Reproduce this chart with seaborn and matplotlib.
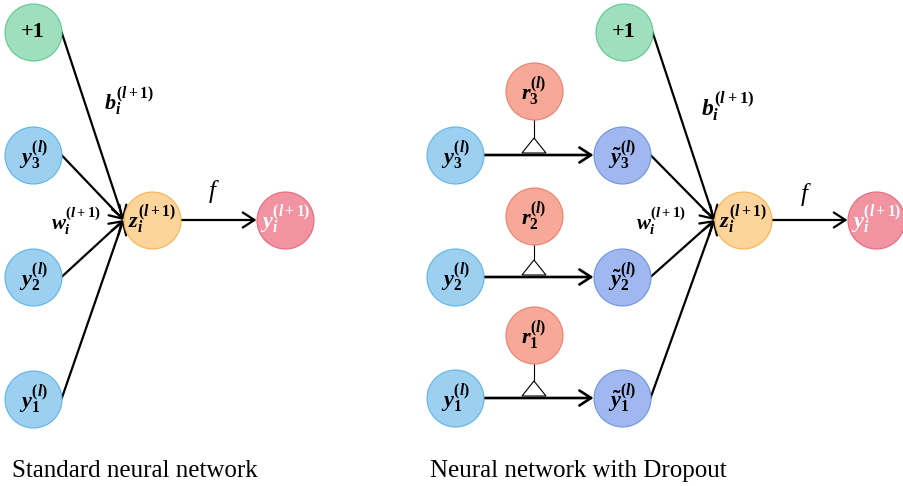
import matplotlib
matplotlib.use('Agg')
import matplotlib.pyplot as plt
import seaborn as sns
import pandas as pd
from matplotlib.patches import Polygon

# ---------------- data ----------------
node_labels = ['+1', r'$y_3^{(l)}$', r'$y_2^{(l)}$', r'$y_1^{(l)}$', r'$z_i^{(l+1)}$', r'$y_i^{(l+1)}$',
               '+1', r'$y_3^{(l)}$', r'$y_2^{(l)}$', r'$y_1^{(l)}$',
               r'$r_3^{(l)}$', r'$r_2^{(l)}$', r'$r_1^{(l)}$',
               r'$\tilde{y}_3^{(l)}$', r'$\tilde{y}_2^{(l)}$', r'$\tilde{y}_1^{(l)}$',
               r'$z_i^{(l+1)}$', r'$y_i^{(l+1)}$']
node_kinds = ['bias', 'input', 'input', 'input', 'sum', 'output',
              'bias', 'input', 'input', 'input',
              'mask', 'mask', 'mask',
              'thinned', 'thinned', 'thinned',
              'sum', 'output']
# layout (pixel coordinates of the node centres)
node_x = [33, 33, 33, 33, 152, 285,
          624, 455, 455, 455,
          534, 534, 534,
          622, 622, 622,
          743, 876]
node_y = [32, 155, 277, 399, 220, 220,
          32, 155, 277, 398,
          91, 216, 335,
          155, 277, 398,
          220, 220]

# edges (index pairs)
edges_to_sum = [(0, 4), (1, 4), (2, 4), (3, 4), (6, 16), (13, 16), (14, 16), (15, 16)]
edges_out = [(4, 5), (16, 17)]
dropout_edges = [(7, 13, 10), (8, 14, 11), (9, 15, 12)]

captions = ['Standard neural network', 'Neural network with Dropout']

# ---------------- style ----------------
sns.set_theme(style='white')
plt.rcParams['font.family'] = ['Liberation Serif', 'DejaVu Serif']
plt.rcParams['text.color'] = 'black'
plt.rcParams['mathtext.fontset'] = 'custom'
plt.rcParams['mathtext.rm'] = 'Liberation Serif:bold'
plt.rcParams['mathtext.it'] = 'Liberation Serif:italic:bold'
plt.rcParams['mathtext.bf'] = 'Liberation Serif:bold'

face = {'bias': '#9fdfbd', 'input': '#9dd0f0', 'sum': '#fdd59c',
        'output': '#f293a2', 'mask': '#f6a999', 'thinned': '#a0b7ef'}
edge = {'bias': '#5cc98f', 'input': '#5bb5e8', 'sum': '#f7b24a',
        'output': '#e6687e', 'mask': '#ec7f6b', 'thinned': '#6d94e2'}

R = 28.5  # node radius in px

df = pd.DataFrame({'label': node_labels, 'kind': node_kinds, 'x': node_x, 'y': node_y})

fig = plt.figure(figsize=(9.04, 4.86), dpi=100)
ax = fig.add_axes([0, 0, 1, 1])
ax.set_xlim(0, 904)
ax.set_ylim(486, 0)
ax.axis('off')

for kind, sub in df.groupby('kind'):
    sns.scatterplot(data=sub, x='x', y='y', color=face[kind], edgecolor=edge[kind],
                    linewidth=0.8, s=(2 * R * 72 / 100) ** 2, ax=ax, zorder=3, legend=False)

for _, row in df.iterrows():
    col = 'white' if row['kind'] == 'output' else 'black'
    ax.text(row['x'], row['y'], row['label'], ha='center', va='center',
            fontsize=16, color=col, fontweight='bold', zorder=4)

ax.set_xlabel('')
ax.set_ylabel('')

arrow_kw = dict(arrowstyle='->,head_length=0.7,head_width=0.45', color='black',
                lw=1.6, shrinkA=0, shrinkB=0)

for s, t in edges_to_sum + edges_out:
    x0, y0 = node_x[s] + R, node_y[s]
    x1, y1 = node_x[t] - R, node_y[t]
    ax.annotate('', xy=(x1, y1), xytext=(x0, y0), arrowprops=arrow_kw, zorder=2)

for s, t, m in dropout_edges:
    x0, y0 = node_x[s] + R, node_y[s]
    x1, y1 = node_x[t] - R, node_y[t]
    ax.annotate('', xy=(x1, y1), xytext=(x0, y0),
                arrowprops=dict(arrow_kw, lw=1.9), zorder=2)
    mx = node_x[m]
    base_y = y0 - 2
    apex_y = base_y - 15
    ax.plot([mx, mx], [node_y[m] + R, apex_y], color='black', lw=0.8, zorder=2)
    ax.add_patch(Polygon([(mx - 12, base_y), (mx + 12, base_y), (mx, apex_y)],
                         closed=True, fill=False, edgecolor='black', lw=0.8, zorder=2))

# edge labels
ax.text(104, 102, r'$b_i^{(l+1)}$', ha='left', va='center', fontsize=16)
ax.text(76, 221, r'$w_i^{(l+1)}$', ha='center', va='center', fontsize=15)
ax.text(212, 191, 'f', ha='center', va='center', fontsize=18, fontstyle='italic')
ax.text(701, 106, r'$b_i^{(l+1)}$', ha='left', va='center', fontsize=17)
ax.text(661, 221, r'$w_i^{(l+1)}$', ha='center', va='center', fontsize=15)
ax.text(804, 194, 'f', ha='center', va='center', fontsize=18, fontstyle='italic')

ax.text(12, 477, captions[0], ha='left', va='baseline', fontsize=18)
ax.text(430, 477, captions[1], ha='left', va='baseline', fontsize=18)

fig.savefig('out.png', dpi=100)
